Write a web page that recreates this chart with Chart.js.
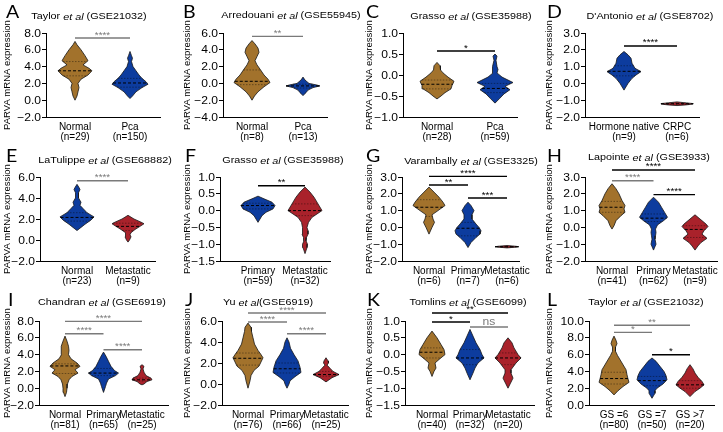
<!DOCTYPE html>
<html>
<head>
<meta charset="utf-8">
<script src="https://cdn.jsdelivr.net/npm/chart.js@4.4.0/dist/chart.umd.min.js"></script>
<style>
  body { margin: 0; background: #fff; width: 723px; height: 432px; overflow: hidden; position: relative; }
  .panel { position: absolute; }
</style>
</head>
<body>
<script>
const BROWN = '#a2722c', BLUE = '#0d3c9e', RED = '#a9222b';
const GRAY = '#7a7a7a', BLACK = '#000';

// ---- A  Taylor et al (GSE21032)
const A_title = ['Taylor ', 'et al', ' (GSE21032)'];
const A_groups = ['Normal', 'Pca'];
const A_n = [29, 150];
const A_levels = [
  [7.0, 6.6, 6.0, 5.3, 4.7, 4.2, 3.8, 3.5, 3.0, 2.5, 2.0, 1.5, 1.0, 0.5, 0.0],
  [5.8, 5.3, 5.0, 4.6, 4.0, 3.5, 3.0, 2.6, 2.2, 1.9, 1.5, 1.0, 0.5, 0.2]
];
const A_density = [
  [0, 2, 6, 10, 13, 8, 14, 17, 13, 6, 3, 4, 3, 2, 0],
  [0, 1.5, 2.5, 1.5, 3, 6, 9, 12, 16, 18, 12, 6, 2.5, 0]
];
const A_median = [3.5, 2.05], A_q1 = [2.9, 1.55], A_q3 = [4.6, 2.6];
const A_ticks = [-2, 0, 2, 4, 6, 8];
const A_sig = [['****', 0, 1, 7.4, GRAY]];

// ---- B  Arredouani et al (GSE55945)
const B_title = ['Arredouani ', 'et al', ' (GSE55945)'];
const B_groups = ['Normal', 'Pca'];
const B_n = [8, 13];
const B_levels = [
  [5.1, 4.7, 4.2, 3.7, 3.2, 2.7, 2.2, 1.7, 1.0, 0.5, 0.1, -0.4, -1.0, -1.5, -2.0],
  [0.75, 0.4, 0.0, -0.2, -0.3, -0.5, -0.8, -1.1, -1.45]
];
const B_density = [
  [0, 3, 6, 7, 5, 3, 5, 8, 12, 16, 18, 12, 6, 2.5, 0],
  [0, 2, 6, 14, 17, 10, 5, 3, 0]
];
const B_median = [0.25, -0.3], B_q1 = [-0.15, -0.55], B_q3 = [1.6, -0.1];
const B_ticks = [-4, -2, 0, 2, 4, 6];
const B_sig = [['**', 0, 1, 5.6, GRAY]];

// ---- C  Grasso et al (GSE35988)
const C_title = ['Grasso ', 'et al', ' (GSE35988)'];
const C_groups = ['Normal', 'Pca'];
const C_n = [28, 59];
const C_levels = [
  [0.3, 0.22, 0.12, 0.05, -0.05, -0.15, -0.25, -0.33, -0.42, -0.5, -0.57],
  [0.5, 0.45, 0.35, 0.2, 0.13, 0.05, -0.05, -0.18, -0.27, -0.35, -0.45, -0.55, -0.67]
];
const C_density = [
  [0, 3, 3.5, 6, 11, 17, 15, 14, 8, 4, 0],
  [0, 2, 1, 2, 3, 2, 7, 18, 10, 15, 9, 5, 0]
];
const C_median = [-0.22, -0.32], C_q1 = [-0.33, -0.42], C_q3 = [-0.12, -0.2];
const C_ticks = [-1, -0.5, 0, 0.5, 1];
const C_sig = [['*', 0, 1, 0.57, BLACK]];

// ---- D  D'Antonio et al (GSE8702)
const D_title = ["D'Antonio ", 'et al', ' (GSE8702)'];
const D_groups = ['Hormone native', 'CRPC'];
const D_n = [9, 6];
const D_levels = [
  [1.9, 1.7, 1.5, 1.2, 0.9, 0.7, 0.5, 0.3, 0.0, -0.4],
  [-1.1, -1.16, -1.2, -1.23, -1.28, -1.32]
];
const D_density = [
  [0, 4, 7, 8, 11, 17, 12, 8, 4, 0],
  [0, 9, 16, 16, 9, 0]
];
const D_median = [0.72, -1.21], D_q1 = [0.45, -1.25], D_q3 = [1.05, -1.17];
const D_ticks = [-2, -1, 0, 1, 2, 3];
const D_sig = [['****', 0, 1, 2.23, BLACK]];

// ---- E  LaTulippe et al (GSE68882)
const E_title = ['LaTulippe ', 'et al', ' (GSE68882)'];
const E_groups = ['Normal', 'Metastatic'];
const E_n = [23, 9];
const E_levels = [
  [5.3, 5.0, 4.8, 4.5, 4.0, 3.6, 3.3, 3.0, 2.6, 2.2, 1.9, 1.5, 1.2, 0.9],
  [2.35, 2.0, 1.7, 1.55, 1.3, 1.0, 0.7, 0.5, 0.3, 0.0, -0.2]
];
const E_density = [
  [0, 2, 3, 1.5, 1.5, 4, 3, 6, 10, 17, 14, 8, 4, 0],
  [0, 6, 13, 16, 12, 7, 3, 2, 3, 1.5, 0]
];
const E_median = [2.15, 1.3], E_q1 = [1.8, 0.9], E_q3 = [2.6, 1.6];
const E_ticks = [-2, 0, 2, 4, 6];
const E_sig = [['****', 0, 1, 5.65, GRAY]];

// ---- F  Grasso et al (GSE35988)
const F_title = ['Grasso ', 'et al', ' (GSE35988)'];
const F_groups = ['Primary', 'Metastatic'];
const F_n = [59, 32];
const F_levels = [
  [0.43, 0.35, 0.25, 0.15, 0.05, -0.05, -0.15, -0.25, -0.35],
  [0.7, 0.55, 0.4, 0.2, 0.0, -0.1, -0.2, -0.35, -0.5, -0.6, -0.7, -0.8, -0.9, -1.0, -1.1, -1.28]
];
const F_density = [
  [0, 6, 14, 17, 15, 8, 4, 2, 0],
  [0, 5, 9, 13, 17, 12, 7, 3.5, 2, 3, 3, 1.5, 1, 2.5, 2, 0]
];
const F_median = [0.15, 0.0], F_q1 = [0.05, -0.15], F_q3 = [0.22, 0.2];
const F_ticks = [-1.5, -1, -0.5, 0, 0.5, 1];
const F_sig = [['**', 0, 1, 0.74, BLACK]];

// ---- G  Varambally et al (GSE3325)
const G_title = ['Varambally ', 'et al', ' (GSE3325)'];
const G_groups = ['Normal', 'Primary', 'Metastatic'];
const G_n = [6, 7, 6];
const G_levels = [
  [2.4, 2.1, 1.8, 1.5, 1.3, 1.0, 0.75, 0.5, 0.3, 0.0, -0.4],
  [1.5, 1.3, 1.0, 0.75, 0.5, 0.2, 0.0, -0.2, -0.4, -0.6, -0.9, -1.2],
  [-1.08, -1.12, -1.15, -1.18, -1.22]
];
const G_density = [
  [0, 5, 10, 14, 16, 9, 3, 4, 5.5, 3, 0],
  [0, 3, 6, 4, 4, 8, 11, 13, 12, 8, 3, 0],
  [0, 8, 12, 8, 0]
];
const G_median = [1.2, -0.05, -1.15], G_q1 = [0.65, -0.5, -1.17], G_q3 = [1.65, 0.3, -1.13];
const G_ticks = [-2, -1, 0, 1, 2, 3];
const G_sig = [['**', 0, 1, 2.52, BLACK], ['****', 0, 2, 3.04, BLACK], ['***', 1, 2, 1.75, BLACK]];

// ---- H  Lapointe et al (GSE3933)
const H_title = ['Lapointe ', 'et al', ' (GSE3933)'];
const H_groups = ['Normal', 'Primary', 'Metastatic'];
const H_n = [41, 62, 9];
const H_levels = [
  [2.6, 2.3, 2.0, 1.6, 1.3, 1.1, 0.9, 0.7, 0.4, 0.1, -0.1],
  [1.8, 1.5, 1.2, 0.9, 0.6, 0.4, 0.15, -0.1, -0.3, -0.5, -0.7, -1.0, -1.35],
  [0.75, 0.5, 0.2, 0.05, -0.2, -0.4, -0.65, -0.9, -1.1, -1.35]
];
const H_density = [
  [0, 4, 7, 10, 13, 12, 13, 9, 4, 2, 0],
  [0, 5, 8, 11, 14, 10, 4, 2, 2.5, 2, 1.5, 2.5, 0],
  [0, 5, 11, 13, 9, 7, 12, 6, 3, 0]
];
const H_median = [1.2, 0.55, -0.12], H_q1 = [0.9, 0.35, -0.6], H_q3 = [1.55, 0.8, 0.1];
const H_ticks = [-2, -1, 0, 1, 2, 3];
const H_sig = [['****', 0, 2, 3.42, BLACK], ['****', 0, 1, 2.78, GRAY], ['****', 1, 2, 1.95, BLACK]];

// ---- I  Chandran et al (GSE6919)
const I_title = ['Chandran ', 'et al', ' (GSE6919)'];
const I_groups = ['Normal', 'Primary', 'Metastatic'];
const I_n = [81, 65, 25];
const I_levels = [
  [6.2, 5.6, 5.0, 4.5, 4.0, 3.5, 3.0, 2.6, 2.2, 1.8, 1.4, 1.0, 0.5, 0.0, -0.5, -1.0],
  [4.3, 3.8, 3.2, 2.6, 2.1, 1.8, 1.5, 1.1, 0.6, 0.2, -0.5],
  [2.8, 2.6, 2.3, 1.9, 1.5, 1.2, 1.0, 0.8, 0.5, 0.4]
];
const I_density = [
  [0, 2, 3.5, 4, 3.5, 6, 12, 15, 10, 13, 7, 4, 2.5, 2, 1.5, 0],
  [0, 2.5, 5, 7.5, 11, 15, 12, 5, 3, 2, 0],
  [0, 2, 1, 2, 4, 9, 10, 5, 2, 0]
];
const I_median = [2.65, 1.8, 1.0], I_q1 = [1.75, 1.5, 0.85], I_q3 = [2.9, 2.35, 1.2];
const I_ticks = [-2, 0, 2, 4, 6, 8];
const I_sig = [['****', 0, 2, 7.96, GRAY], ['****', 0, 1, 6.49, GRAY], ['****', 1, 2, 4.58, GRAY]];

// ---- J  Yu et al(GSE6919)
const J_title = ['Yu ', 'et al', '(GSE6919)'];
const J_groups = ['Normal', 'Primary', 'Metastatic'];
const J_n = [76, 66, 25];
const J_levels = [
  [5.8, 5.4, 5.0, 4.4, 3.8, 3.2, 2.8, 2.5, 2.1, 1.7, 1.3, 0.8, 0.3, -0.4],
  [4.4, 4.0, 3.4, 2.8, 2.2, 1.6, 1.1, 0.7, 0.3, 0.0, -0.4],
  [2.5, 2.2, 2.0, 1.8, 1.5, 1.2, 0.9, 0.6, 0.2]
];
const J_density = [
  [0, 3, 3.5, 5, 6.5, 10, 13, 15, 13, 11, 6, 3, 2, 0],
  [0, 2, 3.5, 7, 11, 13, 14, 8, 3, 2, 0],
  [0, 2, 2.5, 1, 4, 7, 13, 6, 0]
];
const J_median = [2.45, 1.45, 0.9], J_q1 = [1.8, 1.05, 0.75], J_q3 = [2.95, 2.0, 1.2];
const J_ticks = [-2, 0, 2, 4, 6];
const J_sig = [['****', 0, 2, 6.76, GRAY], ['****', 0, 1, 5.9, GRAY], ['****', 1, 2, 4.79, GRAY]];

// ---- K  Tomlins et al (GSE6099)
const K_title = ['Tomlins ', 'et al', ' (GSE6099)'];
const K_groups = ['Normal', 'Primary', 'Metastatic'];
const K_n = [40, 32, 20];
const K_levels = [
  [0.7, 0.5, 0.3, 0.15, 0.0, -0.12, -0.25, -0.4, -0.5, -0.65],
  [0.75, 0.55, 0.35, 0.15, 0.0, -0.1, -0.25, -0.4, -0.55, -0.75],
  [0.5, 0.35, 0.2, 0.0, -0.1, -0.25, -0.45, -0.55, -0.7, -0.85, -1.0]
];
const K_density = [
  [0, 5, 9, 12, 13, 8, 3, 4, 2, 0],
  [0, 3, 6, 10, 12, 14, 8, 5, 3, 0],
  [0, 4, 6, 10, 13, 8, 3, 3, 5, 2.5, 0]
];
const K_median = [0.07, -0.1, -0.1], K_q1 = [-0.1, -0.3, -0.3], K_q3 = [0.2, 0.15, 0.05];
const K_ticks = [-1.5, -1, -0.5, 0, 0.5, 1];
const K_sig = [['**', 0, 2, 1.24, BLACK], ['*', 0, 1, 0.97, BLACK], ['ns', 1, 2, 0.82, GRAY]];

// ---- L  Taylor et al (GSE21032)
const L_title = ['Taylor ', 'et al', ' (GSE21032)'];
const L_groups = ['GS =6', 'GS =7', 'GS >7'];
const L_n = [80, 50, 20];
const L_levels = [
  [8.2, 7.7, 7.3, 6.9, 6.4, 5.9, 5.0, 4.2, 3.6, 3.1, 2.7, 2.2, 1.7, 1.2],
  [5.6, 5.2, 4.6, 4.0, 3.5, 3.0, 2.5, 2.0, 1.7, 1.4, 1.1, 0.8],
  [4.8, 4.3, 3.8, 3.3, 2.8, 2.4, 2.0, 1.6, 1.0]
];
const L_density = [
  [0, 2, 3, 1.5, 1.5, 3.5, 8, 12, 13, 14, 15, 9, 4, 0],
  [0, 4, 8, 12, 14, 15, 11, 5, 3, 3, 1.5, 0],
  [0, 3, 5, 8, 12, 14, 10, 5, 0]
];
const L_median = [3.15, 2.9, 2.4], L_q1 = [2.5, 2.3, 2.0], L_q3 = [3.9, 3.4, 2.9];
const L_ticks = [0, 2, 4, 6, 8, 10];
const L_sig = [['**', 0, 2, 9.49, GRAY], ['*', 0, 1, 8.65, GRAY], ['*', 1, 2, 5.99, BLACK]];

const SANS = "'Liberation Sans', Arial, sans-serif";
const STRETCH = 1.1;   // tick numbers are drawn a little wide in the original

function fmtTick(v) {
  const r = Math.round(v * 10) / 10;
  return (r < 0 ? '\u2212' : '') + Math.abs(r).toFixed(1);
}

// half width of a violin at value v (profile is listed top to bottom)
function widthAt(levels, dens, v) {
  for (let i = 0; i < levels.length - 1; i++) {
    const a = levels[i], b = levels[i + 1];
    if (v <= a && v >= b) {
      const t = (a - v) / (a - b);
      return dens[i] + t * (dens[i + 1] - dens[i]);
    }
  }
  return 0;
}

function stretchText(ctx, text, x, y, align, baseline, sx) {
  ctx.save();
  ctx.translate(x, y);
  ctx.scale(sx, 1);
  ctx.textAlign = align;
  ctx.textBaseline = baseline;
  ctx.fillText(text, 0, 0);
  ctx.restore();
}

const panelText = {
  id: 'panelText',
  afterDraw(chart, args, o) {
    const ctx = chart.ctx, xs = chart.scales.x, ys = chart.scales.y;
    ctx.save();
    ctx.fillStyle = '#000';

    // y tick labels
    ctx.font = '11px ' + SANS;
    ys.ticks.forEach(t => {
      stretchText(ctx, fmtTick(t.value), xs.left - 5, ys.getPixelForValue(t.value) + 0.5, 'right', 'middle', STRETCH);
    });

    // title with italic "et al"
    const fonts = ['9px ' + SANS, 'italic 9px ' + SANS, '9px ' + SANS];
    const widths = o.title.map((s, i) => { ctx.font = fonts[i]; return ctx.measureText(s).width * 1.2; });
    let x = o.titleX - widths.reduce((a, b) => a + b, 0) / 2;
    o.title.forEach((s, i) => {
      ctx.font = fonts[i];
      stretchText(ctx, s, x, o.titleY, 'left', 'middle', 1.2);
      x += widths[i];
    });

    // panel letter
    ctx.font = '17px Lato, ' + SANS;
    stretchText(ctx, o.letter, o.letterX, o.letterY, 'left', 'alphabetic', 1.15);

    // significance marks
    o.sig.forEach(s => {
      const xm = (xs.getPixelForValue(s[1] + 1) + xs.getPixelForValue(s[2] + 1)) / 2;
      const y = ys.getPixelForValue(s[3]);
      ctx.fillStyle = s[4];
      if (s[0] === 'ns') {
        ctx.font = '11px ' + SANS;
        stretchText(ctx, s[0], xm, y - 2.5, 'center', 'alphabetic', 1.1);
      } else {
        ctx.font = '9px ' + SANS;
        stretchText(ctx, s[0], xm, y - 0.5, 'center', 'alphabetic', 1.1);
      }
    });
    ctx.restore();
  }
};

function buildDatasets(p, pxToX) {
  const ds = [];
  p.groups.forEach((g, i) => {
    const c = i + 1, lv = p.levels[i], dn = p.density[i];
    const right = lv.map((v, j) => ({ x: c + dn[j] * pxToX, y: v }));
    const left = lv.map((v, j) => ({ x: c - dn[j] * pxToX, y: v })).reverse();
    ds.push({
      data: right.concat(left, [right[0]]),
      showLine: true, fill: 'shape', tension: 0,
      backgroundColor: p.colors[i], borderColor: '#161616', borderWidth: 0.8,
      pointRadius: 0, order: 3
    });
    [[p.q1[i], false], [p.q3[i], false], [p.median[i], true]].forEach(([q, isMed]) => {
      const w = widthAt(lv, dn, q) * pxToX;
      ds.push({
        data: [{ x: c - w, y: q }, { x: c + w, y: q }],
        showLine: true, fill: false, pointRadius: 0, order: 2,
        borderColor: isMed ? '#000' : 'rgba(0,0,0,0.55)',
        borderWidth: isMed ? 1 : 0.7,
        borderDash: isMed ? [3, 2] : [1.5, 1.5]
      });
    });
  });
  p.sig.forEach(s => {
    ds.push({
      data: [{ x: s[1] + 1, y: s[3] }, { x: s[2] + 1, y: s[3] }],
      showLine: true, fill: false, pointRadius: 0, order: 1, clip: false,
      borderColor: s[4], borderWidth: 1.4
    });
  });
  return ds;
}

const PANELS = [
  { letter: 'A', title: A_title, groups: A_groups, n: A_n, levels: A_levels, density: A_density, median: A_median, q1: A_q1, q3: A_q3, ticks: A_ticks, sig: A_sig, colors: [BROWN, BLUE] },
  { letter: 'B', title: B_title, groups: B_groups, n: B_n, levels: B_levels, density: B_density, median: B_median, q1: B_q1, q3: B_q3, ticks: B_ticks, sig: B_sig, colors: [BROWN, BLUE] },
  { letter: 'C', title: C_title, groups: C_groups, n: C_n, levels: C_levels, density: C_density, median: C_median, q1: C_q1, q3: C_q3, ticks: C_ticks, sig: C_sig, colors: [BROWN, BLUE] },
  { letter: 'D', title: D_title, groups: D_groups, n: D_n, levels: D_levels, density: D_density, median: D_median, q1: D_q1, q3: D_q3, ticks: D_ticks, sig: D_sig, colors: [BLUE, RED] },
  { letter: 'E', title: E_title, groups: E_groups, n: E_n, levels: E_levels, density: E_density, median: E_median, q1: E_q1, q3: E_q3, ticks: E_ticks, sig: E_sig, colors: [BLUE, RED] },
  { letter: 'F', title: F_title, groups: F_groups, n: F_n, levels: F_levels, density: F_density, median: F_median, q1: F_q1, q3: F_q3, ticks: F_ticks, sig: F_sig, colors: [BLUE, RED] },
  { letter: 'G', title: G_title, groups: G_groups, n: G_n, levels: G_levels, density: G_density, median: G_median, q1: G_q1, q3: G_q3, ticks: G_ticks, sig: G_sig, colors: [BROWN, BLUE, RED] },
  { letter: 'H', title: H_title, groups: H_groups, n: H_n, levels: H_levels, density: H_density, median: H_median, q1: H_q1, q3: H_q3, ticks: H_ticks, sig: H_sig, colors: [BROWN, BLUE, RED] },
  { letter: 'I', title: I_title, groups: I_groups, n: I_n, levels: I_levels, density: I_density, median: I_median, q1: I_q1, q3: I_q3, ticks: I_ticks, sig: I_sig, colors: [BROWN, BLUE, RED] },
  { letter: 'J', title: J_title, groups: J_groups, n: J_n, levels: J_levels, density: J_density, median: J_median, q1: J_q1, q3: J_q3, ticks: J_ticks, sig: J_sig, colors: [BROWN, BLUE, RED] },
  { letter: 'K', title: K_title, groups: K_groups, n: K_n, levels: K_levels, density: K_density, median: K_median, q1: K_q1, q3: K_q3, ticks: K_ticks, sig: K_sig, colors: [BROWN, BLUE, RED] },
  { letter: 'L', title: L_title, groups: L_groups, n: L_n, levels: L_levels, density: L_density, median: L_median, q1: L_q1, q3: L_q3, ticks: L_ticks, sig: L_sig, colors: [BROWN, BLUE, RED] }
];

// where each panel sits on the page (panel-local pixels for axes, titles, letters)
const LAYOUT = [
  { x: 0,   y: 0,   w: 180, axisL: 46, axisR: 160, cats: [75, 130],      titleX: 89,  titleY: 17, letterX: 6, letterY: 18 },
  { x: 180, y: 0,   w: 182, axisL: 43, axisR: 147, cats: [72, 123],      titleX: 111, titleY: 16, letterX: 3, letterY: 18 },
  { x: 362, y: 0,   w: 180, axisL: 41, axisR: 155, cats: [75, 133],      titleX: 109, titleY: 17, letterX: 4, letterY: 18 },
  { x: 542, y: 0,   w: 181, axisL: 43, axisR: 157, cats: [82, 135],      titleX: 108, titleY: 17, letterX: 5, letterY: 18 },
  { x: 0,   y: 144, w: 180, axisL: 40, axisR: 155, cats: [77, 128],      titleX: 105, titleY: 17, letterX: 6, letterY: 18 },
  { x: 180, y: 144, w: 182, axisL: 40, axisR: 150, cats: [78, 125],      titleX: 103, titleY: 17, letterX: 5, letterY: 18 },
  { x: 362, y: 144, w: 180, axisL: 40, axisR: 157, cats: [67, 107, 145], titleX: 109, titleY: 18, letterX: 4, letterY: 18 },
  { x: 542, y: 144, w: 181, axisL: 43, axisR: 175, cats: [70, 110, 153], titleX: 107, titleY: 14, letterX: 5, letterY: 18 },
  { x: 0,   y: 288, w: 180, axisL: 39, axisR: 168, cats: [65, 101, 142], titleX: 102, titleY: 15, letterX: 8, letterY: 18 },
  { x: 180, y: 288, w: 182, axisL: 42, axisR: 168, cats: [68, 106, 146], titleX: 88,  titleY: 15, letterX: 5, letterY: 18 },
  { x: 362, y: 288, w: 180, axisL: 43, axisR: 172, cats: [70, 108, 146], titleX: 106, titleY: 15, letterX: 5, letterY: 18 },
  { x: 542, y: 288, w: 181, axisL: 47, axisR: 172, cats: [72, 110, 148], titleX: 104, titleY: 15, letterX: 5, letterY: 18 }
];

function makePanel(p, L) {
  const div = document.createElement('div');
  div.className = 'panel';
  div.style.left = L.x + 'px';
  div.style.top = L.y + 'px';
  const canvas = document.createElement('canvas');
  canvas.width = L.w; canvas.height = 144;
  canvas.style.width = L.w + 'px'; canvas.style.height = '144px';
  div.appendChild(canvas);
  document.body.appendChild(div);

  const k = p.groups.length;
  const sp = (L.cats[k - 1] - L.cats[0]) / (k - 1);
  const xMin = 1 - (L.cats[0] - L.axisL) / sp;
  const xMax = k + (L.axisR - L.cats[k - 1]) / sp;

  new Chart(canvas, {
    type: 'scatter',
    data: { datasets: buildDatasets(p, 1 / sp) },
    plugins: [panelText],
    options: {
      responsive: false,
      animation: false,
      devicePixelRatio: 1,
      layout: { padding: { top: 33, left: 0, right: L.w - L.axisR, bottom: 0 } },
      plugins: {
        legend: { display: false },
        tooltip: { enabled: false },
        panelText: { letter: p.letter, title: p.title, sig: p.sig, titleX: L.titleX, titleY: L.titleY, letterX: L.letterX, letterY: L.letterY }
      },
      scales: {
        x: {
          type: 'linear', position: 'bottom', min: xMin, max: xMax,
          afterBuildTicks: s => { s.ticks = p.groups.map((g, i) => ({ value: i + 1 })); },
          afterFit: s => { s.height = 144 - 117; s.paddingLeft = 0; s.paddingRight = 0; },
          grid: { display: false, drawTicks: false },
          border: { display: true, color: '#000', width: 1 },
          ticks: {
            autoSkip: false, maxRotation: 0, minRotation: 0, padding: 5, color: '#000',
            font: { family: SANS, size: 10, lineHeight: 1 },
            callback: (v, i) => [p.groups[i], '(n=' + p.n[i] + ')']
          }
        },
        y: {
          type: 'linear', min: p.ticks[0], max: p.ticks[p.ticks.length - 1],
          afterBuildTicks: s => { s.ticks = p.ticks.map(v => ({ value: v })); },
          afterFit: s => { s.width = L.axisL; s.paddingTop = 0; s.paddingBottom = 0; },
          grid: { drawOnChartArea: false, drawTicks: true, tickLength: 4, color: '#000', lineWidth: 1 },
          border: { display: true, color: '#000', width: 1 },
          ticks: { display: false },
          title: {
            display: true, text: 'PARVA mRNA expression', color: '#000',
            font: { family: SANS, size: 9.5 }, padding: { top: 1.5, bottom: 0 }
          }
        }
      }
    }
  });
}

PANELS.forEach((p, i) => makePanel(p, LAYOUT[i]));
</script>
</body>
</html>
